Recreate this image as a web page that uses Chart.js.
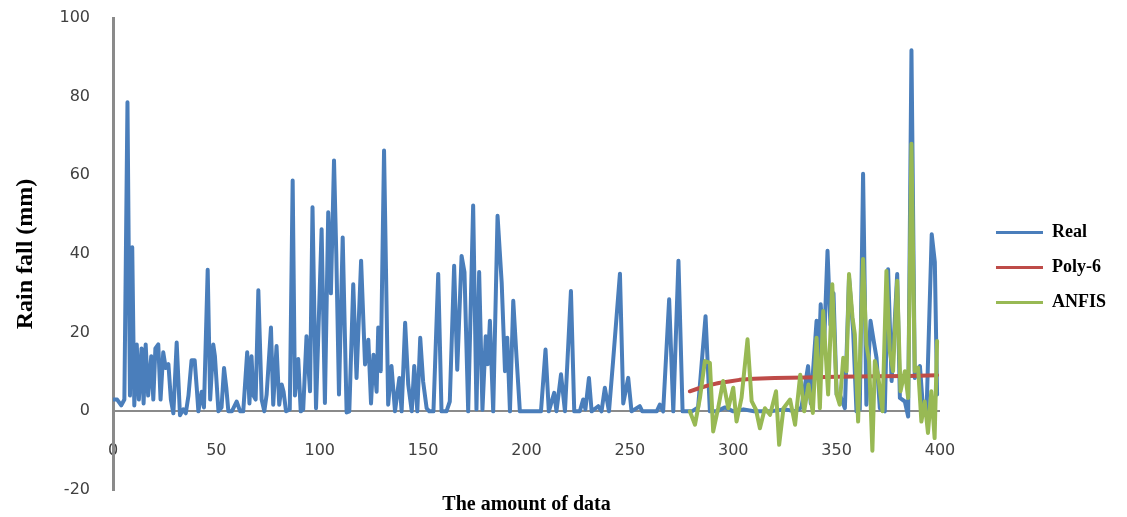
<!DOCTYPE html>
<html lang="en">
<head>
    <meta charset="UTF-8">
    <title>Rain fall: Real vs Poly-6 vs ANFIS</title>
    <script src="https://cdn.jsdelivr.net/npm/chart.js"></script>
    <style>
        html, body { margin: 0; padding: 0; background: #fff; }
        #wrap { width: 1127px; height: 517px; }
    </style>
</head>
<body>
    <div id="wrap"><canvas id="rainChart" width="1127" height="517"></canvas></div>

    <script>
        // [index, rainfall mm]
        const realPoints = [
            [0,3],[2,3],[4,1.5],[5.5,3],[7,78.6],[8.2,4],[9.3,41.7],[10.3,1.5],[11.5,17],[12.5,3],
            [13.8,16],[14.8,2],[15.8,17],[17,4],[18.5,14],[19.5,3],[20.5,16],[21.9,17],[23,3],[24.3,15],
            [25.5,11],[26.8,12],[28,3],[29.2,-0.5],[30.8,17.5],[32.4,-1],[34,0.5],[35.2,-0.5],[36.5,4],[38,13],
            [39.5,13],[40.5,6],[41.3,0],[42.9,5],[44,1],[45.8,36],[47,3],[48.5,17],[49.3,14],[51,0],
            [52.5,1],[53.7,11],[54.8,6],[55.8,0],[57.5,0],[59.8,2.5],[61.5,0],[63,0],[64.9,15],[66,2],
            [67,14],[67.9,4],[69,3],[70.3,30.8],[71.9,3],[73.2,0],[74.3,4.2],[76.4,21.3],[77.5,1.7],[79.1,16.6],
            [80.4,1.7],[81.6,6.8],[82.5,5],[83.7,0],[85.5,0.5],[86.9,58.7],[88,4],[89.6,13.3],[90.8,0],[92,0.5],
            [93.6,19.1],[95.3,5.1],[96.5,51.9],[98.2,0.8],[100.9,46.3],[102.5,2.1],[104.1,50.6],[105.4,30],[106.9,63.8],[108,40],
            [109.3,4.3],[111.1,44.2],[113,-0.3],[114.3,0],[116.2,32.3],[117.8,8.5],[120,38.3],[121.9,11.9],[123.5,18.2],[124.8,2],
            [126,14.4],[127.5,5],[128.3,21.3],[129.5,10.2],[131.1,66.3],[133.1,1.7],[134.7,11.5],[136.4,0],[138.5,8.5],[139.6,0],
            [141.3,22.5],[142.8,6.8],[144.5,0],[145.7,11.5],[147.2,0],[148.6,18.7],[150,7.6],[151.7,0.8],[153,0],[155,0],
            [157.3,34.9],[158.9,0],[161.3,0],[162.9,2.5],[165,37],[166.5,10.6],[168.6,39.5],[170,35.4],[171.8,0],[174.2,52.3],
            [175.8,0.5],[177.1,35.4],[178.7,0.4],[180.3,19.1],[181.3,12],[182.3,23],[183.9,0],[186,49.7],[188,32.7],[189.6,10.2],
            [190.7,18.7],[192,0],[193.6,28.1],[195.2,13.6],[196.8,0],[200,0],[207,0],[209.2,15.7],[210.8,0],[213.4,4.7],
            [214.5,0],[216.7,9.4],[218.6,0],[221.5,30.6],[223.1,0],[225.8,0],[227.4,3],[228.5,0.5],[230.2,8.5],[231.5,0],
            [234.7,1.3],[236.3,0],[237.9,6],[239.9,0],[241.9,12.9],[245.2,35],[246.8,2],[249.2,8.5],[250.8,0],[254.8,1.3],
            [256,0],[263,0],[264.5,1.7],[266.1,0],[269,28.5],[271,0],[273.5,38.3],[275.5,0],[280,0],[283,1],
            [286.6,24.2],[288.7,0],[292,0],[296,1],[300,0],[305,0.5],[310,0],[318,0],[325,0.5],[330,0],
            [333,1],[336.2,11.5],[337.5,2],[340.3,23],[341.3,12],[342.3,27.2],[343.8,15],[345.6,40.8],[347,22],[348.5,30],
            [350,4.3],[351.5,4.3],[354,0.8],[356,34],[358,20.4],[359.6,0],[361.2,0.5],[362.8,60.4],[364.4,1.7],[366.4,23],
            [367.7,18.7],[369.3,13.6],[370.9,0.8],[373.3,0],[374.9,36.1],[376.6,7.7],[379.3,34.9],[380.6,3.4],[383,2.5],[384.6,-1.3],
            [386.2,91.8],[387.8,8.5],[390.3,11.5],[391.9,0],[393.5,0],[396,45],[397.5,38],[398.6,4.3]
        ];

        const polyPoints = [
            [279,5.1],[283,5.8],[288,6.6],[293,7.2],[298,7.6],[303,8],[310,8.3],[320,8.5],
            [335,8.6],[350,8.8],[370,8.9],[385,9],[398.6,9.2]
        ];

        const anfisPoints = [
            [279,0],[281.5,-3.4],[283.9,3.4],[286.3,12.8],[288.7,12.3],[290.3,-5.1],[292.7,0.8],[295.1,7.7],
            [297.6,0.8],[300,6],[301.6,-2.6],[304,3.4],[306.9,18.3],[308.9,2.6],[311,0.4],[312.9,-4.3],
            [315.3,0.8],[317.8,-0.9],[320.7,5.1],[322.2,-8.5],[324.3,0.8],[327.5,3],[329.9,-3.4],[332.4,9.3],
            [334.3,0],[336.4,6.8],[338.5,-0.4],[340.3,18.7],[341.9,0.8],[343.5,25.5],[345.9,4.3],[347.9,32.3],
            [350,4.3],[351.5,1.7],[353.2,13.6],[354.8,10.2],[356,34.9],[357.7,23.8],[358.8,19.6],[360.4,-2.6],
            [362.8,38.7],[364.4,17],[365.7,12.8],[367.3,-10],[368.5,12.8],[370,9.4],[372.2,0],[374.1,35.7],
            [375.7,15.3],[377.3,10.2],[379.3,33.2],[380.9,5.1],[383,10.2],[384.6,3.4],[386.2,68],[387.8,10.2],
            [389.4,11.1],[391,-2.6],[392.6,2.5],[394.2,-5.5],[395.8,5.1],[397.4,-6.8],[398.6,17.9]
        ];

        const seriesNames = ['Real', 'Poly-6', 'ANFIS'];
        const xTicks = { min: 0, max: 400, step: 50 };
        const yTicks = { min: -20, max: 100, step: 20 };

        const toXY = pts => pts.map(p => ({ x: p[0], y: p[1] }));

        const tickFont = { family: 'DejaVu Sans', size: 16 };
        const axisGray = '#8a8a8a';

        function lineSet(label, pts, color, width, order) {
            return {
                label: label,
                data: toXY(pts),
                borderColor: color,
                backgroundColor: color,
                borderWidth: width,
                pointRadius: 0,
                tension: 0,
                borderJoinStyle: 'round',
                borderCapStyle: 'round',
                order: order
            };
        }

        const ctx = document.getElementById('rainChart').getContext('2d');
        new Chart(ctx, {
            type: 'line',
            data: {
                datasets: [
                    lineSet(seriesNames[0], realPoints, '#4a7ebb', 4, 3),
                    lineSet(seriesNames[1], polyPoints, '#be4b48', 4, 2),
                    lineSet(seriesNames[2], anfisPoints, '#98b954', 4, 1)
                ]
            },
            options: {
                responsive: false,
                animation: false,
                layout: { padding: { left: 0, top: 18, right: 11, bottom: 0 } },
                plugins: {
                    tooltip: { enabled: false },
                    legend: {
                        position: 'right',
                        labels: {
                            boxWidth: 47,
                            boxHeight: 3,
                            padding: 17,
                            color: '#000',
                            font: { family: 'Liberation Serif', size: 18, weight: 'bold' },
                            sort: (a, b) => a.datasetIndex - b.datasetIndex,
                            generateLabels(chart) {
                                const items = Chart.defaults.plugins.legend.labels.generateLabels(chart);
                                items.forEach(it => { it.lineWidth = 0; });
                                return items;
                            }
                        }
                    }
                },
                scales: {
                    x: {
                        type: 'linear',
                        position: { y: 0 },
                        min: xTicks.min,
                        max: xTicks.max,
                        grid: { display: false, drawTicks: false },
                        border: { display: true, color: axisGray, width: 2 },
                        ticks: { stepSize: xTicks.step, padding: 30, color: '#404040', font: tickFont, maxRotation: 0 }
                    },
                    // carries the x title under the plot
                    xTitle: {
                        type: 'linear',
                        position: 'bottom',
                        grid: { display: false, drawTicks: false },
                        border: { display: false },
                        ticks: { display: false },
                        title: {
                            display: true,
                            text: 'The amount of data',
                            color: '#000',
                            font: { family: 'Liberation Serif', weight: 'bold', size: 20 },
                            padding: { top: 3, bottom: 0 }
                        }
                    },
                    y: {
                        min: yTicks.min,
                        max: yTicks.max,
                        grid: { display: false, drawTicks: false },
                        border: { display: true, color: axisGray, width: 3 },
                        ticks: { stepSize: yTicks.step, padding: 23, color: '#404040', font: tickFont },
                        title: {
                            display: true,
                            text: 'Rain fall (mm)',
                            color: '#000',
                            font: { family: 'Liberation Serif', weight: 'bold', size: 24 },
                            padding: { top: 11, bottom: 0 }
                        },
                        afterFit(scale) {
                            scale.width = 113;
                            scale.paddingTop = 0;
                            scale.paddingBottom = 0;
                        }
                    },
                    // empty spacer between plot and legend
                    yGap: {
                        position: 'right',
                        grid: { display: false, drawTicks: false },
                        border: { display: false },
                        ticks: { display: false },
                        afterFit(scale) { scale.width = 39; }
                    }
                }
            }
        });
    </script>
</body>
</html>
